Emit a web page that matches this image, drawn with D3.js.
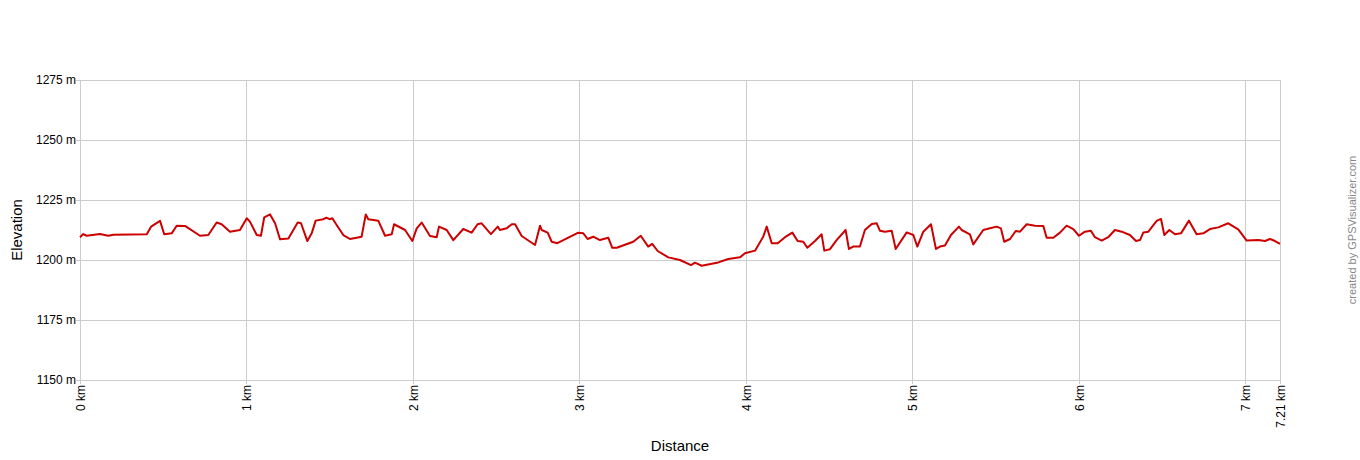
<!DOCTYPE html>
<html><head><meta charset="utf-8">
<script src="https://cdn.jsdelivr.net/npm/d3@7"></script>
<style>body{margin:0;background:#fff}svg{display:block}text{font-family:Arial,"Liberation Sans",sans-serif}</style>
</head><body>
<svg id="c" width="1360" height="460"></svg>
<script>
const distKm = [0,0.02,0.04,0.12,0.17,0.2,0.401,0.427,0.481,0.506,0.551,0.581,0.631,0.721,0.771,0.821,0.851,0.901,0.961,1.002,1.021,1.062,1.087,1.107,1.142,1.172,1.202,1.252,1.308,1.328,1.366,1.392,1.416,1.462,1.48,1.5,1.516,1.542,1.582,1.622,1.662,1.692,1.717,1.732,1.792,1.833,1.873,1.887,1.953,1.997,2.023,2.053,2.103,2.143,2.157,2.203,2.243,2.303,2.353,2.389,2.413,2.469,2.51,2.523,2.564,2.594,2.614,2.654,2.734,2.764,2.774,2.81,2.834,2.868,2.934,2.994,3.024,3.05,3.084,3.124,3.174,3.198,3.225,3.324,3.369,3.414,3.438,3.471,3.535,3.605,3.671,3.695,3.735,3.835,3.895,3.965,3.995,4.056,4.105,4.126,4.156,4.192,4.236,4.28,4.312,4.346,4.37,4.416,4.456,4.472,4.506,4.546,4.6,4.62,4.646,4.686,4.716,4.757,4.787,4.806,4.836,4.877,4.901,4.967,5.007,5.031,5.067,5.113,5.143,5.167,5.197,5.233,5.281,5.297,5.347,5.367,5.427,5.467,5.508,5.533,5.553,5.588,5.622,5.648,5.688,5.738,5.788,5.808,5.848,5.888,5.928,5.968,6.002,6.038,6.074,6.098,6.139,6.178,6.218,6.259,6.308,6.345,6.369,6.389,6.419,6.469,6.495,6.515,6.545,6.579,6.615,6.663,6.709,6.749,6.789,6.839,6.899,6.959,7.01,7.08,7.12,7.15,7.18,7.21];
const elevM = [1209.5,1210.8,1210.1,1210.8,1210.1,1210.5,1210.7,1213.9,1216.3,1210.7,1211.1,1214.3,1214.2,1210.1,1210.4,1215.6,1214.9,1211.8,1212.5,1217.4,1216.0,1210.4,1210.1,1217.8,1219.0,1215.3,1208.6,1209.0,1215.6,1215.3,1207.9,1211.1,1216.4,1217.0,1217.6,1217.0,1217.4,1214.6,1210.4,1208.75,1209.3,1209.7,1219.0,1217.0,1216.4,1210.1,1210.7,1214.9,1212.5,1207.9,1213.2,1215.6,1210.0,1209.5,1213.9,1212.5,1208.3,1212.9,1211.4,1214.9,1215.3,1210.8,1213.9,1212.5,1213.2,1214.9,1214.9,1210.0,1206.25,1214.3,1212.5,1211.4,1207.6,1207.0,1209.3,1211.4,1211.1,1208.75,1209.7,1208.3,1209.3,1205.1,1205.1,1207.6,1210.1,1205.6,1206.7,1203.75,1201.1,1200.0,1197.9,1198.9,1197.6,1199.0,1200.4,1201.1,1202.8,1203.9,1209.7,1213.9,1207.0,1207.0,1209.5,1211.4,1207.9,1207.6,1205.1,1207.9,1210.7,1203.9,1204.5,1208.3,1212.5,1204.6,1205.6,1205.6,1212.5,1215.0,1215.3,1212.2,1211.8,1212.2,1204.6,1211.5,1210.4,1205.6,1211.8,1214.9,1204.6,1205.6,1206.0,1210.4,1213.9,1212.5,1210.7,1206.5,1212.5,1213.2,1213.9,1213.2,1207.6,1208.75,1212.1,1211.8,1214.9,1214.3,1214.2,1209.3,1209.3,1211.4,1214.3,1212.9,1210.1,1211.8,1212.2,1209.5,1208.1,1209.5,1212.5,1211.8,1210.4,1207.9,1208.3,1211.5,1211.8,1216.3,1217.1,1210.4,1212.5,1210.7,1211.1,1216.4,1210.7,1211.1,1212.9,1213.6,1215.3,1212.8,1208.1,1208.3,1207.9,1208.75,1207.9,1206.7];
const xTicks = [0,1,2,3,4,5,6,7,7.21];
const xTickLabels = ["0 km","1 km","2 km","3 km","4 km","5 km","6 km","7 km","7.21 km"];
const yTicks = [1150,1175,1200,1225,1250,1275];
const yTickLabels = ["1150 m","1175 m","1200 m","1225 m","1250 m","1275 m"];

const svg = d3.select("#c");
const L=80,R=1280,T=80,B=380;
const x = d3.scaleLinear().domain([0,7.21]).range([L,R]);
const y = d3.scaleLinear().domain([1150,1275]).range([B,T]);
const grid = "#cccccc";

const gy = svg.append("g");
yTicks.forEach((t,i)=>{
  gy.append("line").attr("x1",L-4).attr("x2",R).attr("y1",y(t)+0.5).attr("y2",y(t)+0.5).attr("stroke",grid);
  gy.append("text").attr("x",L-4).attr("y",y(t)+4).attr("text-anchor","end").attr("font-size",12).attr("fill","#000").text(yTickLabels[i]);
});
const gx = svg.append("g");
xTicks.forEach((t,i)=>{
  const px = Math.round(x(t))+0.5;
  gx.append("line").attr("x1",px).attr("x2",px).attr("y1",T).attr("y2",B+4).attr("stroke",grid);
  gx.append("text").attr("transform",`translate(${px+4},${B+5}) rotate(-90)`).attr("text-anchor","end").attr("font-size",12).attr("fill","#000").text(xTickLabels[i]);
});

const data = distKm.map((d,i)=>[d,elevM[i]]);
svg.append("path").datum(data)
  .attr("d", d3.line().x(d=>x(d[0])).y(d=>y(d[1])))
  .attr("fill","none").attr("stroke","#cc0000").attr("stroke-width",2).attr("stroke-linejoin","round");

svg.append("text").attr("x",680).attr("y",451).attr("text-anchor","middle").attr("font-size",15).text("Distance");
svg.append("text").attr("transform","translate(22,230) rotate(-90)").attr("text-anchor","middle").attr("font-size",15).text("Elevation");
svg.append("text").attr("transform","translate(1356,230) rotate(-90)").attr("text-anchor","middle").attr("font-size",11).attr("fill","#888").text("created by GPSVisualizer.com");
</script>
</body></html>
